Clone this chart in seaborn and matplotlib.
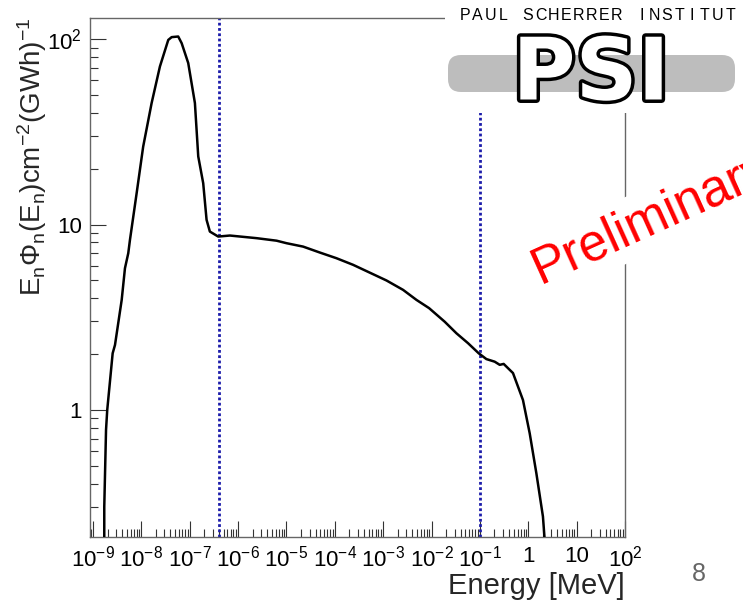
import numpy as np
import pandas as pd
import matplotlib
matplotlib.use('Agg')
import matplotlib.pyplot as plt
import seaborn as sns
from matplotlib.patches import FancyBboxPatch
import matplotlib.patheffects as pe
from matplotlib.ticker import LogLocator, FixedLocator, FixedFormatter, NullFormatter

# ---- data ----
energy_mev = [1.71e-9, 1.71e-9, 1.86e-9, 1.97e-9, 2.55e-9, 2.85e-9, 3.92e-9, 4.58e-9,
              5.36e-9, 5.81e-9, 8.0e-9, 1.09e-8, 1.63e-8, 2.42e-8, 3.60e-8, 4.23e-8,
              5.78e-8, 6.81e-8, 9.31e-8, 1.28e-7, 1.50e-7, 1.90e-7, 2.23e-7, 2.61e-7,
              3.88e-7, 6.77e-7, 2.41e-6, 6.24e-6, 1.0e-5, 2.21e-5, 4.90e-5, 1.08e-4,
              2.39e-4, 5.28e-4, 1.17e-3, 2.58e-3, 4.88e-3, 8.88e-3, 1.87e-2, 3.27e-2,
              5.68e-2, 9.44e-2, 0.136, 0.202, 0.257, 0.310, 0.483, 0.777, 1.07, 1.47,
              2.01, 2.18]
flux = [0.20, 0.30, 0.78, 1.00, 2.02, 2.24, 3.92, 5.81,
        7.0, 8.26, 14.8, 26.3, 45.2, 71.2, 99.0, 102.5,
        103.3, 95.1, 74.3, 45.2, 23.3, 16.7, 10.6, 9.16,
        8.61, 8.72, 8.44, 8.18, 7.93, 7.60, 7.06, 6.58,
        6.06, 5.50, 4.99, 4.44, 3.92, 3.54, 2.99, 2.59,
        2.29, 2.02, 1.88, 1.82, 1.75, 1.77, 1.58, 1.13, 0.748, 0.455,
        0.266, 0.20]
cut_energies = [4e-7, 0.1]
x_tick_values = [1e-9, 1e-8, 1e-7, 1e-6, 1e-5, 1e-4, 1e-3, 1e-2, 1e-1, 1, 10, 100]
x_tick_labels = [r'$\mathregular{10^{-9}}$', r'$\mathregular{10^{-8}}$', r'$\mathregular{10^{-7}}$',
                 r'$\mathregular{10^{-6}}$', r'$\mathregular{10^{-5}}$', r'$\mathregular{10^{-4}}$',
                 r'$\mathregular{10^{-3}}$', r'$\mathregular{10^{-2}}$', r'$\mathregular{10^{-1}}$',
                 '1', '10', r'$\mathregular{10^{2}}$']
y_tick_values = [1, 10, 100]
y_tick_labels = ['1', '10', r'$\mathregular{10^{2}}$']

df = pd.DataFrame({'energy': energy_mev, 'flux': flux})

sns.set_theme(style='ticks')
plt.rcParams['font.family'] = ['Liberation Sans', 'DejaVu Sans']
plt.rcParams['mathtext.fontset'] = 'custom'
plt.rcParams['mathtext.rm'] = 'Liberation Sans'
plt.rcParams['mathtext.it'] = 'Liberation Sans:italic'
plt.rcParams['mathtext.bf'] = 'Liberation Sans:bold'

W, H = 743, 603
fig = plt.figure(figsize=(W / 100, H / 100), dpi=100, facecolor='white')
ax = fig.add_axes([90 / W, 1 - 536.7 / H, 535 / W, 518.7 / H])
ax.set_facecolor('white')

sns.lineplot(data=df, x='energy', y='flux', estimator=None, sort=False,
             color='black', linewidth=1.8, ax=ax, zorder=3)
for e in cut_energies:
    ax.axvline(e, color='#1c1caa', linestyle=(0, (1, 0.9)), linewidth=2.0, zorder=2)

ax.set_xscale('log')
ax.set_yscale('log')
ax.set_xlim(8.67e-10, 100)
ax.set_ylim(0.207, 130)

ax.xaxis.set_major_locator(FixedLocator(x_tick_values))
ax.xaxis.set_major_formatter(FixedFormatter(x_tick_labels))
ax.xaxis.set_minor_locator(LogLocator(base=10, subs=np.arange(2, 10), numticks=40))
ax.xaxis.set_minor_formatter(NullFormatter())
ax.yaxis.set_major_locator(FixedLocator(y_tick_values))
ax.yaxis.set_major_formatter(FixedFormatter(y_tick_labels))
ax.yaxis.set_minor_locator(LogLocator(base=10, subs=np.arange(2, 10), numticks=40))
ax.yaxis.set_minor_formatter(NullFormatter())

ax.tick_params(which='major', direction='in', length=11.5, width=0.8, color='#333333',
               labelsize=16, labelcolor='black')
ax.tick_params(axis='x', which='major', pad=6.5)
ax.tick_params(axis='y', which='major', pad=6)
ax.tick_params(which='minor', direction='in', length=5.8, width=0.8, color='#333333')
ax.tick_params(top=False, right=False, which='both')
for s in ax.spines.values():
    s.set_color('#666666')
    s.set_linewidth(1.0)
    s.set_visible(True)

ax.set_xlabel('Energy [MeV]', fontsize=21, loc='right')
ax.xaxis.set_label_coords(1.0, -0.068)
ax.set_ylabel(r'$\mathregular{E_{n}\Phi_{n}(E_{n})cm^{-2}(GWh)^{-1}}$', fontsize=20, loc='top')
ax.yaxis.set_label_coords(-0.077, 1.0)

# "Preliminary" stamp with white backing
fig.text(540 / W, 1 - 284 / H, 'Preliminary', rotation=24.3, rotation_mode='anchor',
         ha='left', va='baseline', color='red', fontsize=37,
         bbox=dict(boxstyle='square,pad=0.12', fc='white', ec='none'), zorder=5)

# page number
fig.text(699 / W, 1 - 574 / H, '8', ha='center', va='center', color='#666666', fontsize=18)

# PSI logo block (top right)
lx0, ly0, lx1, ly1 = 445, 0, 743, 113
lax = fig.add_axes([lx0 / W, 1 - ly1 / H, (lx1 - lx0) / W, (ly1 - ly0) / H])
lax.set_xlim(lx0, lx1)
lax.set_ylim(ly1, ly0)
lax.set_facecolor('white')
lax.set_xticks([])
lax.set_yticks([])
for s in lax.spines.values():
    s.set_visible(False)
lax.add_patch(FancyBboxPatch((448, 55), 287, 37, boxstyle='round,pad=0,rounding_size=13',
                             fc='#bdbdbd', ec='none'))
lax.text(591, 76, 'PSI', ha='center', va='center', fontsize=62, fontweight='bold',
         color='white', family='DejaVu Sans',
         path_effects=[pe.Stroke(linewidth=5, foreground='black'), pe.Normal()])
title_chars = 'PAUL SCHERRER INSTITUT'
for i, ch in enumerate(title_chars):
    lax.text(465 + i * (730 - 465) / (len(title_chars) - 1), 16, ch, ha='center', va='center',
             fontsize=11.5, color='black')

fig.savefig('out.png', dpi=100, facecolor='white')
